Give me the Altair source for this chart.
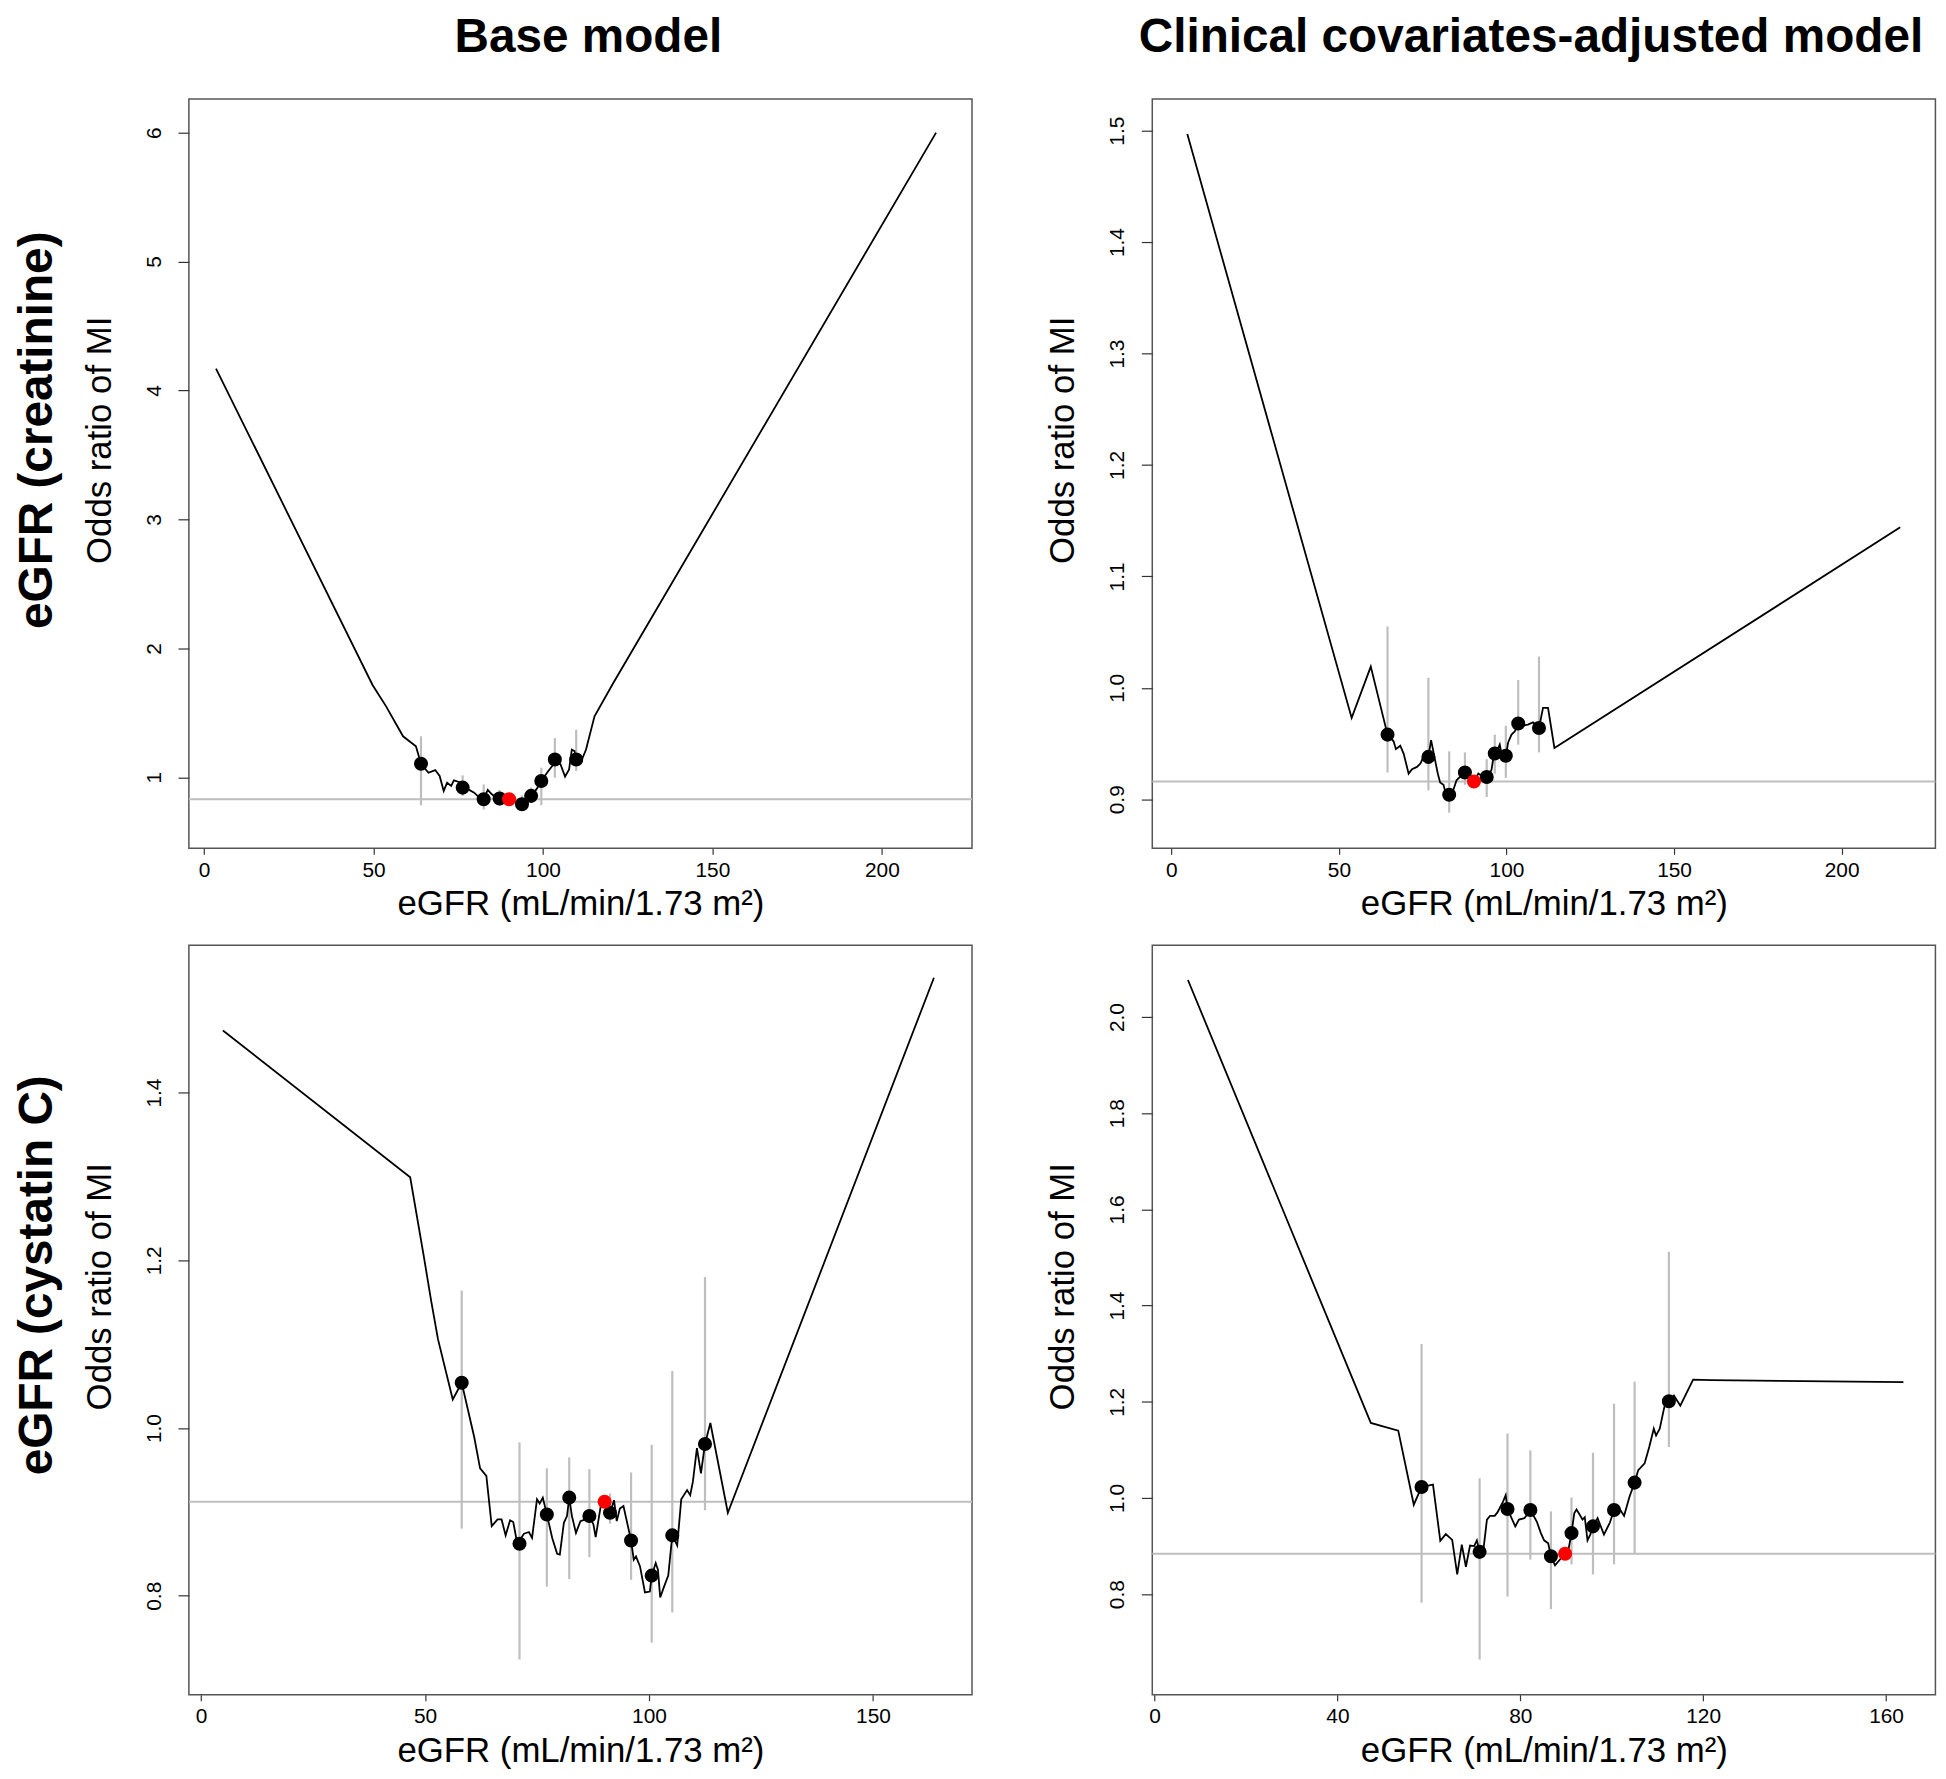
import altair as alt
import pandas as pd

FONT = "Liberation Sans"
GRAY = "#BEBEBE"
XTITLE = "eGFR (mL/min/1.73 m²)"
YTITLE = "Odds ratio of MI"

# ---------- Panel A: eGFR (creatinine), Base model ----------
a_line_x = [3.5, 49.7, 53.7, 58.7, 62.5, 64.0, 66.2, 68.2, 69.5, 70.7, 71.7, 72.9, 73.7, 75.2, 76.3,
            78.2, 79.7, 81.2, 82.5, 83.7, 84.9, 86.2, 87.2, 90.0, 91.2, 92.7, 93.8, 95.5, 96.5, 98.2,
            99.5, 101.2, 102.7, 103.5, 105.2, 106.5, 107.7, 108.5, 109.3, 109.8, 111.7, 112.7, 115.2,
            120.7, 216.0]
a_line_y = [4.17, 1.716, 1.550, 1.318, 1.241, 1.105, 1.035, 1.056, 1.010, 0.894, 0.958, 0.933, 0.976,
            0.964, 0.920, 0.902, 0.881, 0.843, 0.830, 0.902, 0.868, 0.843, 0.835, 0.830, 0.817, 0.799,
            0.791, 0.830, 0.856, 0.912, 0.971, 1.035, 1.087, 1.138, 1.099, 1.005, 1.061, 1.215, 1.203,
            1.138, 1.151, 1.215, 1.473, 1.729, 6.0]
a_pt_x = [64.0, 76.3, 82.5, 87.2, 93.8, 96.5, 99.5, 103.5, 109.8]
a_pt_y = [1.105, 0.920, 0.830, 0.835, 0.791, 0.856, 0.971, 1.138, 1.138]
a_ci_lo = [0.783, 0.856, 0.750, 0.779, 0.740, 0.800, 0.783, 0.997, 1.049]
a_ci_hi = [1.318, 1.015, 0.945, 0.902, 0.860, 0.920, 1.074, 1.305, 1.369]
a_ref = [90.0, 0.830]

# ---------- Panel B: eGFR (creatinine), Clinical covariates-adjusted ----------
b_line_x = [4.75, 53.8, 59.5, 64.5, 66.3, 67.0, 68.3, 69.3, 70.8, 71.8, 73.3, 74.3, 75.2, 76.7, 77.5,
            78.5, 79.5, 80.2, 81.2, 81.9, 82.9, 84.1, 85.1, 86.1, 87.6, 89.1, 90.3, 91.6, 92.6, 94.1,
            95.5, 96.3, 97.3, 98.0, 98.7, 99.8, 100.5, 101.5, 102.5, 103.5, 104.9, 106.4, 107.9, 109.7,
            110.9, 112.4, 114.3, 217.5]
b_line_y = [1.497, 0.973, 1.019, 0.958, 0.952, 0.945, 0.948, 0.941, 0.923, 0.927, 0.929, 0.932, 0.938,
            0.938, 0.953, 0.938, 0.923, 0.915, 0.913, 0.905, 0.904, 0.908, 0.917, 0.920, 0.924, 0.921,
            0.916, 0.923, 0.921, 0.920, 0.926, 0.941, 0.944, 0.949, 0.938, 0.939, 0.951, 0.958, 0.961,
            0.968, 0.966, 0.967, 0.969, 0.964, 0.982, 0.982, 0.946, 1.144]
b_pt_x = [64.5, 76.7, 82.9, 87.6, 94.1, 96.5, 99.8, 103.5, 109.7]
b_pt_y = [0.958, 0.938, 0.904, 0.924, 0.920, 0.941, 0.939, 0.968, 0.964]
b_ci_lo = [0.924, 0.908, 0.888, 0.913, 0.902, 0.923, 0.919, 0.949, 0.942]
b_ci_hi = [1.055, 1.009, 0.943, 0.942, 0.936, 0.958, 0.966, 1.007, 1.028]
b_ref = [90.3, 0.916]

# ---------- Panel C: eGFR (cystatin C), Base model ----------
c_line_x = [4.9, 46.7, 49.7, 51.4, 52.9, 56.2, 58.2, 61.0, 62.3, 63.7, 64.9, 66.2, 67.1, 68.0, 69.0,
            69.7, 70.6, 72.1, 73.2, 73.9, 75.0, 75.6, 76.3, 77.2, 78.4, 79.5, 80.1, 81.0, 81.7, 82.2,
            82.8, 83.7, 84.7, 85.8, 86.7, 87.6, 88.1, 89.2, 90.1, 91.3, 92.2, 92.8, 93.5, 94.3, 96.0,
            96.6, 97.1, 98.0, 99.1, 100.2, 100.6, 101.5, 102.0, 102.5, 103.3, 104.3, 105.2, 106.3,
            107.2, 108.5, 109.2, 109.8, 110.7, 111.6, 112.5, 113.7, 117.6, 163.6]
c_line_y = [1.474, 1.299, 1.206, 1.151, 1.106, 1.034, 1.054, 0.989, 0.952, 0.943, 0.883, 0.891, 0.891,
            0.872, 0.890, 0.888, 0.862, 0.874, 0.876, 0.869, 0.915, 0.910, 0.917, 0.897, 0.869, 0.850,
            0.849, 0.887, 0.895, 0.917, 0.895, 0.875, 0.889, 0.891, 0.895, 0.885, 0.870, 0.906, 0.912,
            0.899, 0.914, 0.889, 0.904, 0.907, 0.866, 0.843, 0.847, 0.835, 0.804, 0.805, 0.824, 0.839,
            0.831, 0.798, 0.810, 0.824, 0.872, 0.860, 0.915, 0.926, 0.920, 0.936, 0.976, 0.946, 0.981,
            1.006, 0.899, 1.537]
c_pt_x = [58.2, 71.1, 77.2, 82.2, 86.7, 91.3, 96.0, 100.6, 105.2, 112.5]
c_pt_y = [1.054, 0.862, 0.897, 0.917, 0.895, 0.899, 0.866, 0.824, 0.872, 0.981]
c_ci_lo = [0.880, 0.724, 0.811, 0.820, 0.846, 0.886, 0.819, 0.744, 0.780, 0.902]
c_ci_hi = [1.164, 0.983, 0.952, 0.965, 0.951, 0.922, 0.947, 0.980, 1.068, 1.180]
c_ref = [90.1, 0.912]

# ---------- Panel D: eGFR (cystatin C), Clinical covariates-adjusted ----------
d_line_x = [7.3, 47.3, 53.3, 56.7, 58.4, 60.9, 62.5, 63.7, 65.1, 66.2, 67.2, 68.1, 69.0, 69.9, 70.5,
            71.1, 72.0, 72.7, 73.4, 74.4, 75.0, 76.2, 76.8, 77.2, 78.9, 79.7, 80.9, 82.2, 83.6, 84.5,
            85.2, 86.1, 86.7, 87.6, 88.3, 89.8, 90.6, 91.2, 91.8, 92.3, 93.0, 93.6, 94.1, 94.7, 95.3,
            95.9, 96.9, 98.3, 99.6, 100.5, 101.6, 102.7, 103.9, 105.0, 105.8, 107.2, 108.2, 109.2,
            109.7, 110.5, 111.5, 112.5, 113.6, 115.0, 117.8, 121.7, 163.8]
d_line_y = [2.077, 1.156, 1.140, 0.986, 1.023, 1.028, 0.911, 0.925, 0.913, 0.841, 0.903, 0.857, 0.901,
            0.900, 0.912, 0.888, 0.898, 0.955, 0.963, 0.963, 0.970, 0.992, 1.006, 0.977, 0.941, 0.955,
            0.958, 0.975, 0.951, 0.927, 0.912, 0.906, 0.879, 0.860, 0.868, 0.884, 0.896, 0.927, 0.968,
            0.976, 0.965, 0.955, 0.960, 0.912, 0.924, 0.941, 0.958, 0.924, 0.949, 0.975, 0.979, 0.963,
            1.003, 1.032, 1.058, 1.072, 1.106, 1.144, 1.130, 1.144, 1.189, 1.201, 1.213, 1.192, 1.246,
            1.245, 1.241]
d_pt_x = [58.4, 71.1, 77.2, 82.2, 86.7, 91.2, 95.9, 100.5, 105.0, 112.5]
d_pt_y = [1.023, 0.888, 0.977, 0.975, 0.879, 0.927, 0.941, 0.975, 1.032, 1.201]
d_ci_lo = [0.782, 0.664, 0.795, 0.872, 0.769, 0.862, 0.841, 0.862, 0.884, 1.106]
d_ci_hi = [1.320, 1.041, 1.134, 1.099, 0.972, 1.001, 1.094, 1.196, 1.242, 1.512]
d_ref = [89.8, 0.884]

W, H = 788, 754
TICK_FS = 21
TITLE_FS = 35
HEAD_FS = 48


def panel(line_x, line_y, pt_x, pt_y, ci_lo, ci_hi, ref, xdom, ydom, xticks, yticks, yfmt, title=None):
    xs = alt.Scale(domain=xdom, nice=False, zero=False)
    ys = alt.Scale(domain=ydom, nice=False, zero=False)
    xax = alt.Axis(values=xticks, title=XTITLE, grid=False, domain=False,
                   tickSize=6, tickColor="#333333", tickWidth=1.2,
                   labelFont=FONT, labelFontSize=TICK_FS, labelColor="black", labelPadding=5,
                   labelOverlap=False, labelFlush=False,
                   titleFont=FONT, titleFontSize=TITLE_FS, titleFontWeight="normal", titleColor="black",
                   titleX=W / 2, titleY=67, titleAlign="center", titleBaseline="alphabetic",
                   titleAngle=0)
    yax = alt.Axis(values=yticks, format=yfmt, title=YTITLE, grid=False, domain=False,
                   tickSize=11, tickColor="#333333", tickWidth=1.2,
                   labelFont=FONT, labelFontSize=TICK_FS, labelColor="black", labelPadding=13.5,
                   labelAngle=270, labelAlign="center", labelBaseline="bottom",
                   labelOverlap=False, labelFlush=False,
                   titleFont=FONT, titleFontSize=TITLE_FS, titleFontWeight="normal", titleColor="black",
                   titleX=-79, titleY=343, titleAngle=270, titleAlign="center",
                   titleBaseline="alphabetic")

    def X(f):
        return alt.X(f, type="quantitative", scale=xs, axis=xax)

    def Y(f):
        return alt.Y(f, type="quantitative", scale=ys, axis=yax)

    ref_df = pd.DataFrame({"x": [ref[0]], "y": [ref[1]]})
    line_df = pd.DataFrame({"x": line_x, "y": line_y})
    pt_df = pd.DataFrame({"x": pt_x, "y": pt_y, "lo": ci_lo, "hi": ci_hi})

    hline = alt.Chart(ref_df).mark_rule(color=GRAY, strokeWidth=2).encode(y=Y("y"))
    ci = alt.Chart(pt_df).mark_rule(color=GRAY, strokeWidth=2.2).encode(x=X("x"), y=Y("lo"), y2="hi")
    curve = alt.Chart(line_df).mark_line(color="black", strokeWidth=1.8).encode(x=X("x"), y=Y("y"))
    dots = alt.Chart(pt_df).mark_circle(color="black", size=200, opacity=1).encode(x=X("x"), y=Y("y"))
    red = alt.Chart(ref_df).mark_circle(color="#FF0000", size=200, opacity=1).encode(x=X("x"), y=Y("y"))
    ch = alt.layer(hline, ci, curve, dots, red).properties(width=W, height=H)
    if title is not None:
        ch = ch.properties(title=title)
    return ch


def col_title(text, dx):
    return alt.TitleParams(text, fontSize=HEAD_FS, fontWeight="bold", font=FONT, color="black",
                           anchor="middle", frame="group", offset=37.3, dx=dx)


def row_title(text, dx):
    return alt.TitleParams(text, orient="left", anchor="middle", fontSize=HEAD_FS, fontWeight="bold",
                           font=FONT, color="black", offset=20, dx=dx)


pA = panel(a_line_x, a_line_y, a_pt_x, a_pt_y, a_ci_lo, a_ci_hi, a_ref,
           [-4.5, 226.6], [0.4495, 6.261], [0, 50, 100, 150, 200], [1, 2, 3, 4, 5, 6], "d",
           title=col_title("Base model", 8))
pB = panel(b_line_x, b_line_y, b_pt_x, b_pt_y, b_ci_lo, b_ci_hi, b_ref,
           [-5.7, 228.0], [0.856, 1.5285], [0, 50, 100, 150, 200],
           [0.9, 1.0, 1.1, 1.2, 1.3, 1.4, 1.5], ".1f",
           title=col_title("Clinical covariates-adjusted model", -13))
pC = panel(c_line_x, c_line_y, c_pt_x, c_pt_y, c_ci_lo, c_ci_hi, c_ref,
           [-2.7, 172.1], [0.682, 1.5756], [0, 50, 100, 150], [0.8, 1.0, 1.2, 1.4], ".1f")
pD = panel(d_line_x, d_line_y, d_pt_x, d_pt_y, d_ci_lo, d_ci_hi, d_ref,
           [-0.5, 170.8], [0.591, 2.149], [0, 40, 80, 120, 160],
           [0.8, 1.0, 1.2, 1.4, 1.6, 1.8, 2.0], ".1f")

row1 = alt.hconcat(pA, pB, spacing=71.4, title=row_title("eGFR (creatinine)", 38))
row2 = alt.hconcat(pC, pD, spacing=71.4, title=row_title("eGFR (cystatin C)", 82))

chart = alt.vconcat(row1, row2, spacing=21.7).properties(
    padding={"left": 6, "top": -1, "right": 0, "bottom": 0}
).configure_view(stroke="#555555", strokeWidth=1.5)

chart.save("out.html", embed_options={"renderer": "svg", "actions": False})
